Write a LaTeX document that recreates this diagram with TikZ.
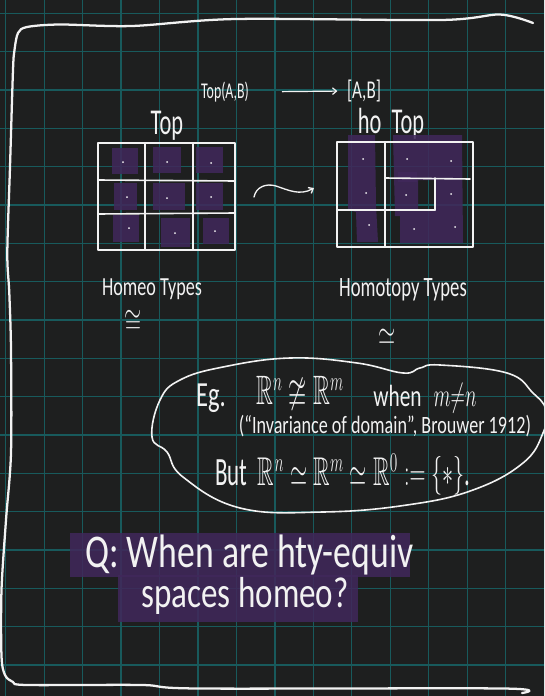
\documentclass[tikz,border=0pt]{standalone}
\usepackage{fontspec}
\usepackage{amssymb}
\usepackage{graphicx}
\setmainfont{Carlito}
\usetikzlibrary{arrows.meta,positioning}

\definecolor{board}{RGB}{30,31,31}
\definecolor{gridline}{RGB}{24,90,92}
\definecolor{ink}{RGB}{242,242,242}
\definecolor{hilite}{RGB}{64,40,90}

% narrow, tall letters like the handwriting
\newcommand{\hand}[2][1]{\scalebox{0.8}[#1]{#2}}

\begin{document}
\begin{tikzpicture}[
  x=0.75pt, y=-0.75pt,
  pen/.style   = {draw=ink, line width=1.2pt, line cap=round, line join=round},
  frame/.style = {draw=ink, line width=1.7pt, line cap=round, line join=round},
  purp/.style  = {fill=hilite, fill opacity=0.88},
  txt/.style   = {text=ink, inner sep=0pt, font=\fontsize{#1}{#1}\selectfont},
  arr/.style   = {-{Straight Barb[length=3pt,width=5pt]}, pen, line width=0.9pt}
]
\useasboundingbox (0,0) rectangle (544,696);
\clip (0,0) rectangle (544,696);
\fill[board] (0,0) rectangle (544,696);

% squared paper
\foreach \i in {0,...,14}
  \draw[gridline, line width=0.9pt] (5.7+38.46*\i,0) -- (5.7+38.46*\i,696);
\foreach \j in {0,...,18}
  \draw[gridline, line width=0.9pt] (0,13.3+38.33*\j) -- (544,13.3+38.33*\j);

% page frame
\draw[frame] plot[smooth, tension=0.5] coordinates {
  (533,23) (500,14.5) (441,20) (236,19) (132,26) (60,24.5) (27,27) (18,33)
  (14.5,50) (13,70) (10,167) (7.3,253) (9.3,293) (11,350) (11,453) (6,520)
  (1.5,590) (1.5,656) (5,675) (13,682) (27,685) (142,685) (198,688.5)
  (503,688.5) (522,693)};

% top line
\node[txt=13] (toplab) at (225,92) {\hand[1.3]{Top(A,B)}};
\node[txt=16] (homlab) at (364,91) {\hand[1.2]{[A,B]}};
\draw[arr, shorten <=25pt, shorten >=7pt] (toplab.east) -- (homlab.west);

% Top : homeomorphism classes
\node[txt=21] (topname) at (167,126) {\hand[1.3]{Top}};
\foreach \a/\b/\c/\d in {112/148/138/174, 153/147/181/173, 196/147/223/173,
                         114/183/137/210, 153/183/185/210, 196/183/223/210,
                         113/215/139/242, 161/218/190/247, 203/218/229/244}
  \fill[purp] (\a,\b) rectangle (\c,\d);
\draw[pen] (98,143) rectangle (235,250);
\draw[pen] (145,143) -- (145,250);
\draw[pen] (193,143) -- (193,250);
\draw[pen] (98,180) -- (235,181);
\draw[pen] (98,214) -- (235,213);
\foreach \p in {(123,162),(167,162),(211,163),(127,197),(167,198),
                (211,197),(129,228),(175,233),(215,231)}
  \fill[ink] \p circle (1);

% squiggle
\coordinate (sqa) at (254,197);
\coordinate (sqm) at (276,186);
\coordinate (sqb) at (314,188);
\draw[arr, line width=1pt] (sqa) .. controls +(2,-10) and +(-10,-3) .. (sqm)
  .. controls +(12,4) and +(-14,8) .. (sqb);

% ho Top : homotopy classes
\node[txt=21] (hotopname) at (391,124) {\hand[1.3]{ho\hspace{0.45em}Top}};
\fill[purp] (348,135) -- (375,135) -- (376,205) -- (378,242) -- (357,242)
  -- (356,212) -- (348,210) -- cycle;
\fill[purp, even odd rule] (393,135) -- (462,135) -- (463,243) -- (400,243)
  -- (400,216) -- (395,216) -- cycle (418,180) rectangle (435,210);
\fill[purp] (398,172) rectangle (417,182);
\draw[pen] (337,142) rectangle (473,247);
\draw[pen] (385,142) -- (385,247);
\draw[pen] (337,210) -- (435,210);
\draw[pen] (435,178) -- (435,210);
\draw[pen] (385,178) -- (470,179);
\foreach \p in {(363,159),(407,159),(451,161),(366,193),(406,195),
                (451,194),(369,225),(414,229),(455,227)}
  \fill[ink] \p circle (1);

% captions
\node[txt=17] (homeo) at (152,289) {\hand[1.15]{Homeo Types}};
\node[txt=17.5] (homotopy) at (403,290) {\hand[1.2]{Homotopy Types}};
\node[txt=20] (congsym) at (133,322) {\hand[1.2]{$\cong$}};
\node[txt=20] (simsym) at (387,337) {\hand[1.2]{$\simeq$}};

% example cloud
\draw[pen] plot[smooth cycle, tension=0.7] coordinates {
  (152,437) (160,400) (180,380) (223,367) (290,358) (357,363) (403,373)
  (420,368) (440,365) (507,373) (533,393) (546,410) (543,433) (523,463)
  (473,490) (407,505) (323,512) (240,508) (183,477) (167,452)};
\node[txt=23] (eg) at (211,398) {\hand[1.15]{Eg.}};
\node[txt=22] (rnm) at (300,394) {\hand[1.4]{$\mathbb{R}^n \ncong \mathbb{R}^m$}};
\node[txt=20] (when) at (425,398)
  {\hand[1.15]{when}\hspace{9pt}\scalebox{0.72}[1.2]{$m{\neq}n$}};
\node[txt=17] (invar) at (385,426)
  {\hand[1.1]{(``Invariance of domain'', Brouwer 1912)}};
\node[txt=21.5] (but) at (343,475)
  {\hand[1.4]{But\ \ $\mathbb{R}^n\simeq\mathbb{R}^m\simeq\mathbb{R}^0 := \{\ast\}$.}};

% question
\fill[purp] (70,533) rectangle (410,577);
\fill[purp] (118,575) rectangle (358,622);
\node[txt=33.5, anchor=west] (qline) at (85,555) {\hand[1.05]{Q: When are hty-equiv}};
\node[txt=31, anchor=west] (qline2) at (141,596) {\hand[1.05]{spaces homeo?}};
\end{tikzpicture}
\end{document}
